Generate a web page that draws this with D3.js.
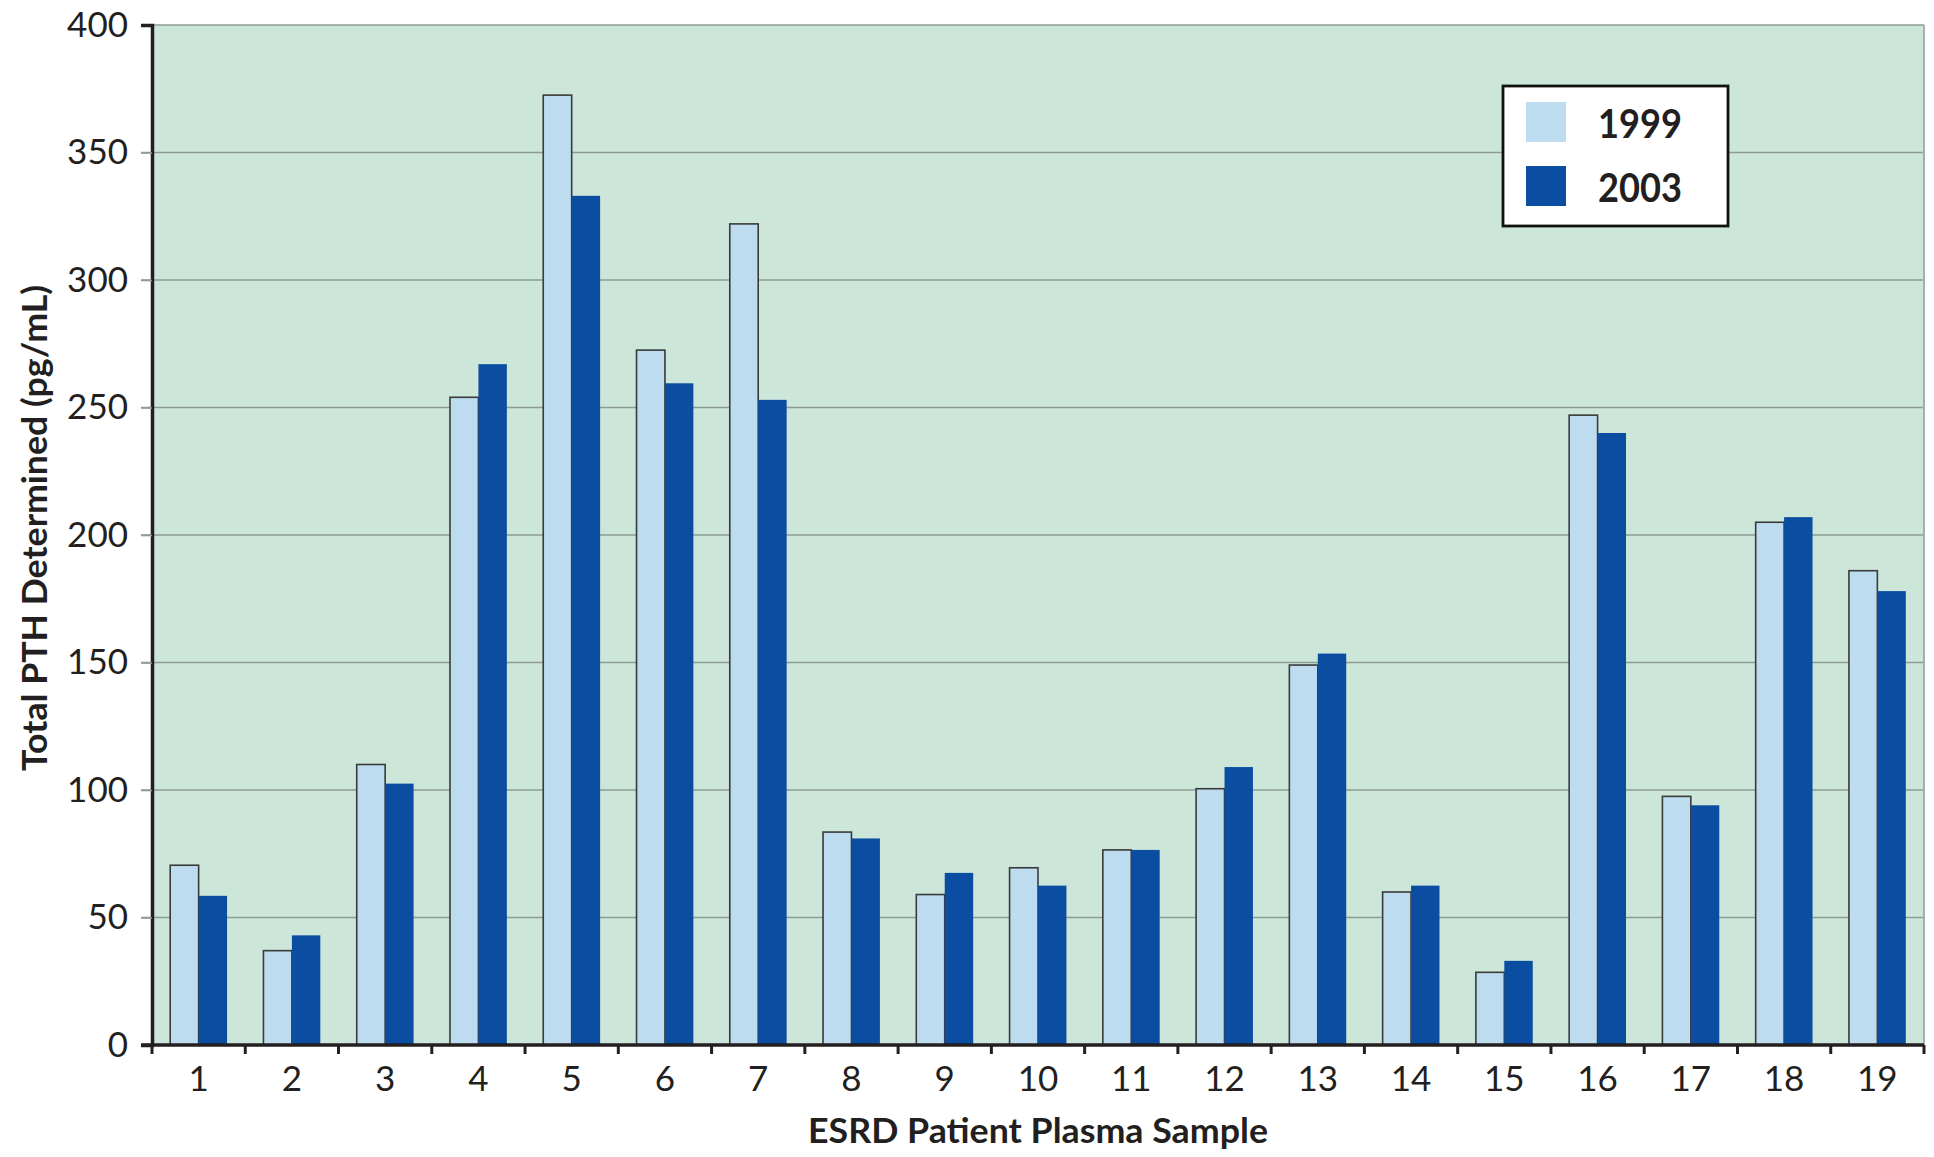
<!DOCTYPE html>
<html>
<head>
<meta charset="utf-8">
<script src="https://cdn.jsdelivr.net/npm/d3@7"></script>
<style>
  html, body { margin: 0; padding: 0; background: #ffffff; }
  svg { display: block; }
  text { font-family: Lato, "Open Sans", sans-serif; fill: #231f20; }
</style>
</head>
<body>
<svg id="chart" width="1934" height="1157"></svg>
<script>
// Total PTH measured on ESRD patient plasma samples, 1999 vs 2003 assay
const samples = ["1","2","3","4","5","6","7","8","9","10","11","12","13","14","15","16","17","18","19"];
const pth1999 = [70.5, 37, 110, 254, 372.5, 272.5, 322, 83.5, 59, 69.5, 76.5, 100.5, 149, 60, 28.5, 247, 97.5, 205, 186];
const pth2003 = [58.5, 43, 102.5, 267, 333, 259.5, 253, 81, 67.5, 62.5, 76.5, 109, 153.5, 62.5, 33, 240, 94, 207, 178];
const seriesNames = ["1999", "2003"];
const seriesColors = ["#bddcf0", "#0b4ea1"];
const yTicks = [0, 50, 100, 150, 200, 250, 300, 350, 400];

const svg = d3.select("#chart");
const plot = { left: 152, right: 1924, top: 25, bottom: 1045 };

const x = d3.scaleBand().domain(samples).range([plot.left, plot.right]).padding(0);
const xs = d3.scaleBand().domain(seriesNames).range([0, x.bandwidth()])
  .paddingInner(0).paddingOuter(0.64);
const y = d3.scaleLinear().domain([0, 400]).range([plot.bottom, plot.top]);

const rows = samples.map((s, i) => ({ sample: s, values: [pth1999[i], pth2003[i]] }));

// plot background
svg.append("rect")
  .attr("x", plot.left).attr("y", plot.top)
  .attr("width", plot.right - plot.left).attr("height", plot.bottom - plot.top)
  .attr("fill", "#cce7da");

// horizontal gridlines, extending a little past the value axis
svg.append("g").selectAll("line").data(yTicks.filter(d => d > 0)).join("line")
  .attr("x1", plot.left - 11).attr("x2", plot.right)
  .attr("y1", d => y(d)).attr("y2", d => y(d))
  .attr("stroke", "#8e9b93").attr("stroke-width", 1.6);

// right border of the plot area
svg.append("line")
  .attr("x1", plot.right).attr("x2", plot.right)
  .attr("y1", plot.top).attr("y2", plot.bottom)
  .attr("stroke", "#a9acae").attr("stroke-width", 2);

// bars
const groups = svg.append("g").selectAll("g").data(rows).join("g")
  .attr("transform", d => `translate(${x(d.sample)},0)`);

groups.selectAll("rect")
  .data(d => d.values.map((v, i) => ({ key: seriesNames[i], value: v, i })))
  .join("rect")
  .attr("x", d => xs(d.key))
  .attr("y", d => y(d.value))
  .attr("width", xs.bandwidth())
  .attr("height", d => y(0) - y(d.value))
  .attr("fill", d => seriesColors[d.i])
  .attr("stroke", d => d.i === 0 ? "#3a3a3a" : "none")
  .attr("stroke-width", 1.6);

// bring the 2003 bars above the outlined 1999 bars
groups.selectAll("rect").filter(d => d.i === 1).raise();

// value axis
const yAxis = d3.axisLeft(y).tickValues(yTicks).tickSize(11).tickPadding(13);
const gy = svg.append("g").attr("transform", `translate(${plot.left},0)`).call(yAxis);
gy.select(".domain").attr("stroke", "#231f20").attr("stroke-width", 3.5);
gy.selectAll(".tick line")
  .attr("stroke", d => (d === 0 || d === 400) ? "#231f20" : "#8e9b93")
  .attr("stroke-width", d => (d === 0 || d === 400) ? 3 : 1.6);
gy.selectAll(".tick text")
  .style("font-size", "35px").style("font-weight", 400)
  .attr("fill", "#231f20");

// category axis: ticks sit on band boundaries
const boundaries = samples.map(s => x(s)).concat([plot.right]);
svg.append("line")
  .attr("x1", plot.left - 11).attr("x2", plot.right)
  .attr("y1", plot.bottom).attr("y2", plot.bottom)
  .attr("stroke", "#231f20").attr("stroke-width", 3.5);
svg.append("g").selectAll("line").data(boundaries).join("line")
  .attr("x1", d => d).attr("x2", d => d)
  .attr("y1", plot.bottom).attr("y2", plot.bottom + 9)
  .attr("stroke", "#231f20").attr("stroke-width", 3);
svg.append("g").selectAll("text").data(samples).join("text")
  .attr("x", d => x(d) + x.bandwidth() / 2)
  .attr("y", 1091)
  .attr("text-anchor", "middle")
  .style("font-size", "35px")
  .text(d => d);

// axis titles
svg.append("text")
  .attr("x", 1038).attr("y", 1143)
  .attr("text-anchor", "middle")
  .style("font-size", "34px").style("font-weight", 700)
  .attr("textLength", 460).attr("lengthAdjust", "spacingAndGlyphs")
  .text("ESRD Patient Plasma Sample");

svg.append("text")
  .attr("transform", "translate(47,528) rotate(-90)")
  .attr("text-anchor", "middle")
  .style("font-size", "34px").style("font-weight", 700)
  .attr("textLength", 486).attr("lengthAdjust", "spacingAndGlyphs")
  .text("Total PTH Determined (pg/mL)");

// legend
const legend = svg.append("g").attr("transform", "translate(1503,86)");
legend.append("rect")
  .attr("width", 225).attr("height", 140)
  .attr("fill", "#ffffff").attr("stroke", "#111111").attr("stroke-width", 2.8);
const items = legend.selectAll("g.item").data(seriesNames).join("g")
  .attr("class", "item")
  .attr("transform", (d, i) => `translate(23,${16 + i * 64})`);
items.append("rect")
  .attr("width", 40).attr("height", 40)
  .attr("fill", (d, i) => seriesColors[i]);
items.append("text")
  .attr("x", 72).attr("y", 36)
  .style("font-size", "40px").style("font-weight", 700)
  .attr("textLength", 84).attr("lengthAdjust", "spacingAndGlyphs")
  .text(d => d);
</script>
</body>
</html>
